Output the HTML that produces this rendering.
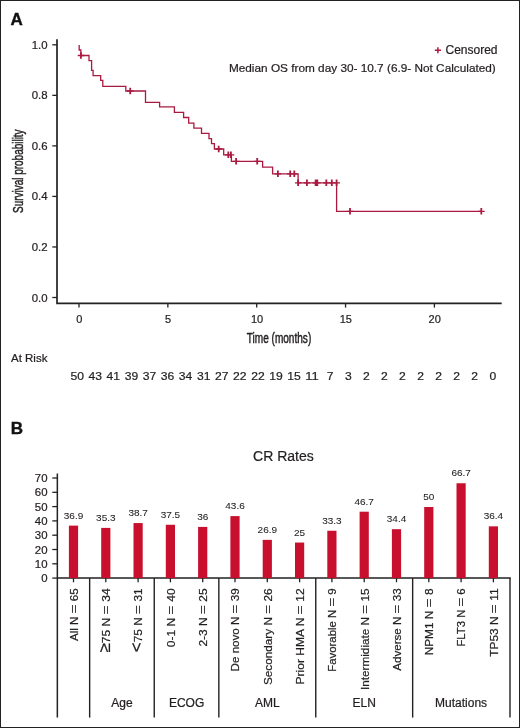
<!DOCTYPE html><html><head><meta charset="utf-8"><style>html,body{margin:0;padding:0;background:#fff;}svg{display:block;}svg{will-change:transform;}text{font-family:"Liberation Sans", sans-serif;fill:#231f20;stroke:#231f20;stroke-width:0.22px;}</style></head><body>
<svg width="520" height="728" viewBox="0 0 520 728">
<rect x="0" y="0" width="520" height="728" fill="#fff"/>
<rect x="0.5" y="0.5" width="519" height="727" fill="none" stroke="#222" stroke-width="1"/>
<text x="10.4" y="25" font-size="17" font-weight="bold" style="fill:#111;stroke:#111;stroke-width:0.4">A</text>
<path d="M57.0 39.2 V303.3 H501.7" fill="none" stroke="#222" stroke-width="1.7"/>
<line x1="52.3" y1="297.50" x2="57.0" y2="297.50" stroke="#222" stroke-width="1.3"/>
<text x="47.6" y="301.50" font-size="11.4" text-anchor="end">0.0</text>
<line x1="52.3" y1="246.96" x2="57.0" y2="246.96" stroke="#222" stroke-width="1.3"/>
<text x="47.6" y="250.96" font-size="11.4" text-anchor="end">0.2</text>
<line x1="52.3" y1="196.42" x2="57.0" y2="196.42" stroke="#222" stroke-width="1.3"/>
<text x="47.6" y="200.42" font-size="11.4" text-anchor="end">0.4</text>
<line x1="52.3" y1="145.88" x2="57.0" y2="145.88" stroke="#222" stroke-width="1.3"/>
<text x="47.6" y="149.88" font-size="11.4" text-anchor="end">0.6</text>
<line x1="52.3" y1="95.34" x2="57.0" y2="95.34" stroke="#222" stroke-width="1.3"/>
<text x="47.6" y="99.34" font-size="11.4" text-anchor="end">0.8</text>
<line x1="52.3" y1="44.80" x2="57.0" y2="44.80" stroke="#222" stroke-width="1.3"/>
<text x="47.6" y="48.80" font-size="11.4" text-anchor="end">1.0</text>
<line x1="79.00" y1="303.3" x2="79.00" y2="307.6" stroke="#222" stroke-width="1.3"/>
<text x="79.30" y="322.7" font-size="11" text-anchor="middle">0</text>
<line x1="167.85" y1="303.3" x2="167.85" y2="307.6" stroke="#222" stroke-width="1.3"/>
<text x="168.15" y="322.7" font-size="11" text-anchor="middle">5</text>
<line x1="256.70" y1="303.3" x2="256.70" y2="307.6" stroke="#222" stroke-width="1.3"/>
<text x="257.00" y="322.7" font-size="11" text-anchor="middle">10</text>
<line x1="345.55" y1="303.3" x2="345.55" y2="307.6" stroke="#222" stroke-width="1.3"/>
<text x="345.85" y="322.7" font-size="11" text-anchor="middle">15</text>
<line x1="434.40" y1="303.3" x2="434.40" y2="307.6" stroke="#222" stroke-width="1.3"/>
<text x="434.70" y="322.7" font-size="11" text-anchor="middle">20</text>
<text x="279" y="343.3" font-size="14" text-anchor="middle" textLength="64.5" lengthAdjust="spacingAndGlyphs" style="stroke:#231f20;stroke-width:0.45">Time (months)</text>
<text transform="translate(23.0 171.2) rotate(-90)" x="0" y="0" font-size="14" text-anchor="middle" textLength="83.6" lengthAdjust="spacingAndGlyphs" style="stroke:#231f20;stroke-width:0.45">Survival probability</text>
<path d="M434.8 50.3 H441 M437.9 47.2 V53.3" stroke="#b3183d" stroke-width="1.5" fill="none"/>
<text x="445.5" y="54.4" font-size="12">Censored</text>
<text x="495.8" y="72.1" font-size="11.8" text-anchor="end">Median OS from day 30- 10.7 (6.9- Not Calculated)</text>
<path d="M79.2 45 V50 H80.9 V55.5 H89 V60.6 H91.6 V70.3 H93.1 V75.7 H100.7 V80.4 H102.8 V86.4 H125.8 V91 H145.5 V102.3 H159.6 V106.8 H174.4 V112.3 H183.6 V117.5 H188.7 V123.1 H193.9 V128.2 H201.5 V133.3 H209 V138.6 H211.5 V143.7 H214.4 V149 H223.7 V154.8 H231.4 V161.3 H262.6 V167.2 H272.6 V173.8 H298.1 V182.8 H336.6 V211.3 H481.3" fill="none" stroke="#aa1a40" stroke-width="1.3"/>
<path d="M77.7 55.5 H84.3 M127.0 91 H133.6 M215.5 149 H222.1 M225.1 154.8 H231.7 M227.7 154.8 H234.3 M232.9 161.3 H239.5 M254.0 161.3 H260.6 M274.7 173.8 H281.3 M287.0 173.8 H293.6 M291.1 173.8 H297.7 M294.9 182.8 H301.5 M303.7 182.8 H310.3 M312.4 182.8 H319.0 M314.1 182.8 H320.7 M323.1 182.8 H329.7 M328.6 182.8 H335.2 M333.4 182.8 H340.0 M346.8 211.3 H353.4 M478.1 211.3 H484.7" fill="none" stroke="#aa1a40" stroke-width="1.3"/>
<path d="M80.9 52.2 V58.8 M130.2 87.7 V94.3 M218.7 145.7 V152.3 M228.3 151.5 V158.1 M230.9 151.5 V158.1 M236.1 158.0 V164.6 M257.2 158.0 V164.6 M277.9 170.5 V177.1 M290.2 170.5 V177.1 M294.3 170.5 V177.1 M298.1 179.5 V186.1 M306.9 179.5 V186.1 M315.6 179.5 V186.1 M317.3 179.5 V186.1 M326.3 179.5 V186.1 M331.8 179.5 V186.1 M336.6 179.5 V186.1 M350 208.0 V214.6 M481.3 208.0 V214.6" fill="none" stroke="#aa1a40" stroke-width="1.8"/>
<text x="11" y="361.8" font-size="11.5">At Risk</text>
<text x="77.20" y="380.1" font-size="11.6" text-anchor="middle" textLength="13.5" lengthAdjust="spacingAndGlyphs">50</text>
<text x="95.27" y="380.1" font-size="11.6" text-anchor="middle" textLength="13.5" lengthAdjust="spacingAndGlyphs">43</text>
<text x="113.34" y="380.1" font-size="11.6" text-anchor="middle" textLength="13.5" lengthAdjust="spacingAndGlyphs">41</text>
<text x="131.41" y="380.1" font-size="11.6" text-anchor="middle" textLength="13.5" lengthAdjust="spacingAndGlyphs">39</text>
<text x="149.48" y="380.1" font-size="11.6" text-anchor="middle" textLength="13.5" lengthAdjust="spacingAndGlyphs">37</text>
<text x="167.55" y="380.1" font-size="11.6" text-anchor="middle" textLength="13.5" lengthAdjust="spacingAndGlyphs">36</text>
<text x="185.62" y="380.1" font-size="11.6" text-anchor="middle" textLength="13.5" lengthAdjust="spacingAndGlyphs">34</text>
<text x="203.69" y="380.1" font-size="11.6" text-anchor="middle" textLength="13.5" lengthAdjust="spacingAndGlyphs">31</text>
<text x="221.76" y="380.1" font-size="11.6" text-anchor="middle" textLength="13.5" lengthAdjust="spacingAndGlyphs">27</text>
<text x="239.83" y="380.1" font-size="11.6" text-anchor="middle" textLength="13.5" lengthAdjust="spacingAndGlyphs">22</text>
<text x="257.90" y="380.1" font-size="11.6" text-anchor="middle" textLength="13.5" lengthAdjust="spacingAndGlyphs">22</text>
<text x="275.97" y="380.1" font-size="11.6" text-anchor="middle" textLength="13.5" lengthAdjust="spacingAndGlyphs">19</text>
<text x="294.04" y="380.1" font-size="11.6" text-anchor="middle" textLength="13.5" lengthAdjust="spacingAndGlyphs">15</text>
<text x="312.11" y="380.1" font-size="11.6" text-anchor="middle" textLength="13.5" lengthAdjust="spacingAndGlyphs">11</text>
<text x="330.18" y="380.1" font-size="11.6" text-anchor="middle" textLength="6.75" lengthAdjust="spacingAndGlyphs">7</text>
<text x="348.25" y="380.1" font-size="11.6" text-anchor="middle" textLength="6.75" lengthAdjust="spacingAndGlyphs">3</text>
<text x="366.32" y="380.1" font-size="11.6" text-anchor="middle" textLength="6.75" lengthAdjust="spacingAndGlyphs">2</text>
<text x="384.39" y="380.1" font-size="11.6" text-anchor="middle" textLength="6.75" lengthAdjust="spacingAndGlyphs">2</text>
<text x="402.46" y="380.1" font-size="11.6" text-anchor="middle" textLength="6.75" lengthAdjust="spacingAndGlyphs">2</text>
<text x="420.53" y="380.1" font-size="11.6" text-anchor="middle" textLength="6.75" lengthAdjust="spacingAndGlyphs">2</text>
<text x="438.60" y="380.1" font-size="11.6" text-anchor="middle" textLength="6.75" lengthAdjust="spacingAndGlyphs">2</text>
<text x="456.67" y="380.1" font-size="11.6" text-anchor="middle" textLength="6.75" lengthAdjust="spacingAndGlyphs">2</text>
<text x="474.74" y="380.1" font-size="11.6" text-anchor="middle" textLength="6.75" lengthAdjust="spacingAndGlyphs">2</text>
<text x="492.81" y="380.1" font-size="11.6" text-anchor="middle" textLength="6.75" lengthAdjust="spacingAndGlyphs">0</text>
<text x="10.8" y="433.5" font-size="17" font-weight="bold" style="fill:#111;stroke:#111;stroke-width:0.4">B</text>
<text x="283.4" y="460.5" font-size="14" text-anchor="middle">CR Rates</text>
<path d="M57.35 473.4 V717.6 M56.65 578.1 H510.7" fill="none" stroke="#222" stroke-width="1.5"/>
<line x1="52.3" y1="578.10" x2="57.35" y2="578.10" stroke="#222" stroke-width="1.3"/>
<text x="47.5" y="582.20" font-size="11.4" text-anchor="end">0</text>
<line x1="52.3" y1="563.80" x2="57.35" y2="563.80" stroke="#222" stroke-width="1.3"/>
<text x="47.5" y="567.90" font-size="11.4" text-anchor="end">10</text>
<line x1="52.3" y1="549.50" x2="57.35" y2="549.50" stroke="#222" stroke-width="1.3"/>
<text x="47.5" y="553.60" font-size="11.4" text-anchor="end">20</text>
<line x1="52.3" y1="535.20" x2="57.35" y2="535.20" stroke="#222" stroke-width="1.3"/>
<text x="47.5" y="539.30" font-size="11.4" text-anchor="end">30</text>
<line x1="52.3" y1="520.90" x2="57.35" y2="520.90" stroke="#222" stroke-width="1.3"/>
<text x="47.5" y="525.00" font-size="11.4" text-anchor="end">40</text>
<line x1="52.3" y1="506.60" x2="57.35" y2="506.60" stroke="#222" stroke-width="1.3"/>
<text x="47.5" y="510.70" font-size="11.4" text-anchor="end">50</text>
<line x1="52.3" y1="492.30" x2="57.35" y2="492.30" stroke="#222" stroke-width="1.3"/>
<text x="47.5" y="496.40" font-size="11.4" text-anchor="end">60</text>
<line x1="52.3" y1="478.00" x2="57.35" y2="478.00" stroke="#222" stroke-width="1.3"/>
<text x="47.5" y="482.10" font-size="11.4" text-anchor="end">70</text>
<rect x="68.90" y="525.63" width="9.2" height="52.47" fill="#c8102e"/>
<text transform="translate(73.50 518.63) scale(1 0.95)" x="0" y="0" font-size="10" style="stroke-width:0.08px" text-anchor="middle">36.9</text>
<line x1="73.50" y1="578.1" x2="73.50" y2="582.3" stroke="#222" stroke-width="1.3"/>
<text class="rl" transform="translate(77.80 588.4) rotate(-90)" x="0" y="0" font-size="11.5" text-anchor="end" textLength="52.58" lengthAdjust="spacingAndGlyphs">All N <tspan textLength="8.8" lengthAdjust="spacingAndGlyphs">=</tspan> 65</text>
<rect x="101.20" y="527.90" width="9.2" height="50.20" fill="#c8102e"/>
<text transform="translate(105.80 520.90) scale(1 0.95)" x="0" y="0" font-size="10" style="stroke-width:0.08px" text-anchor="middle">35.3</text>
<line x1="105.80" y1="578.1" x2="105.80" y2="582.3" stroke="#222" stroke-width="1.3"/>
<text class="rl" transform="translate(110.10 588.4) rotate(-90)" x="0" y="0" font-size="11.5" text-anchor="end" textLength="64.26" lengthAdjust="spacingAndGlyphs"><tspan font-size="16.5">≥</tspan>75 N <tspan textLength="8.8" lengthAdjust="spacingAndGlyphs">=</tspan> 34</text>
<rect x="133.50" y="523.07" width="9.2" height="55.03" fill="#c8102e"/>
<text transform="translate(138.10 516.07) scale(1 0.95)" x="0" y="0" font-size="10" style="stroke-width:0.08px" text-anchor="middle">38.7</text>
<line x1="138.10" y1="578.1" x2="138.10" y2="582.3" stroke="#222" stroke-width="1.3"/>
<text class="rl" transform="translate(142.40 588.4) rotate(-90)" x="0" y="0" font-size="11.5" text-anchor="end" textLength="63.84" lengthAdjust="spacingAndGlyphs"><tspan font-size="16.5">&lt;</tspan>75 N <tspan textLength="8.8" lengthAdjust="spacingAndGlyphs">=</tspan> 31</text>
<rect x="165.80" y="524.77" width="9.2" height="53.32" fill="#c8102e"/>
<text transform="translate(170.40 517.77) scale(1 0.95)" x="0" y="0" font-size="10" style="stroke-width:0.08px" text-anchor="middle">37.5</text>
<line x1="170.40" y1="578.1" x2="170.40" y2="582.3" stroke="#222" stroke-width="1.3"/>
<text class="rl" transform="translate(174.70 588.4) rotate(-90)" x="0" y="0" font-size="11.5" text-anchor="end" textLength="58.83" lengthAdjust="spacingAndGlyphs">0-1 N <tspan textLength="8.8" lengthAdjust="spacingAndGlyphs">=</tspan> 40</text>
<rect x="198.10" y="526.91" width="9.2" height="51.19" fill="#c8102e"/>
<text transform="translate(202.70 519.91) scale(1 0.95)" x="0" y="0" font-size="10" style="stroke-width:0.08px" text-anchor="middle">36</text>
<line x1="202.70" y1="578.1" x2="202.70" y2="582.3" stroke="#222" stroke-width="1.3"/>
<text class="rl" transform="translate(207.00 588.4) rotate(-90)" x="0" y="0" font-size="11.5" text-anchor="end" textLength="58.23" lengthAdjust="spacingAndGlyphs">2-3 N <tspan textLength="8.8" lengthAdjust="spacingAndGlyphs">=</tspan> 25</text>
<rect x="230.40" y="516.10" width="9.2" height="62.00" fill="#c8102e"/>
<text transform="translate(235.00 509.10) scale(1 0.95)" x="0" y="0" font-size="10" style="stroke-width:0.08px" text-anchor="middle">43.6</text>
<line x1="235.00" y1="578.1" x2="235.00" y2="582.3" stroke="#222" stroke-width="1.3"/>
<text class="rl" transform="translate(239.30 588.4) rotate(-90)" x="0" y="0" font-size="11.5" text-anchor="end" textLength="83.03" lengthAdjust="spacingAndGlyphs">De novo N <tspan textLength="8.8" lengthAdjust="spacingAndGlyphs">=</tspan> 39</text>
<rect x="262.70" y="539.85" width="9.2" height="38.25" fill="#c8102e"/>
<text transform="translate(267.30 532.85) scale(1 0.95)" x="0" y="0" font-size="10" style="stroke-width:0.08px" text-anchor="middle">26.9</text>
<line x1="267.30" y1="578.1" x2="267.30" y2="582.3" stroke="#222" stroke-width="1.3"/>
<text class="rl" transform="translate(271.60 588.4) rotate(-90)" x="0" y="0" font-size="11.5" text-anchor="end" textLength="96.69" lengthAdjust="spacingAndGlyphs">Secondary N <tspan textLength="8.8" lengthAdjust="spacingAndGlyphs">=</tspan> 26</text>
<rect x="295.00" y="542.55" width="9.2" height="35.55" fill="#c8102e"/>
<text transform="translate(299.60 535.55) scale(1 0.95)" x="0" y="0" font-size="10" style="stroke-width:0.08px" text-anchor="middle">25</text>
<line x1="299.60" y1="578.1" x2="299.60" y2="582.3" stroke="#222" stroke-width="1.3"/>
<text class="rl" transform="translate(303.90 588.4) rotate(-90)" x="0" y="0" font-size="11.5" text-anchor="end" textLength="96.09" lengthAdjust="spacingAndGlyphs">Prior HMA N <tspan textLength="8.8" lengthAdjust="spacingAndGlyphs">=</tspan> 12</text>
<rect x="327.30" y="530.75" width="9.2" height="47.35" fill="#c8102e"/>
<text transform="translate(331.90 523.75) scale(1 0.95)" x="0" y="0" font-size="10" style="stroke-width:0.08px" text-anchor="middle">33.3</text>
<line x1="331.90" y1="578.1" x2="331.90" y2="582.3" stroke="#222" stroke-width="1.3"/>
<text class="rl" transform="translate(336.20 588.4) rotate(-90)" x="0" y="0" font-size="11.5" text-anchor="end" textLength="83.34" lengthAdjust="spacingAndGlyphs">Favorable N <tspan textLength="8.8" lengthAdjust="spacingAndGlyphs">=</tspan> 9</text>
<rect x="359.60" y="511.69" width="9.2" height="66.41" fill="#c8102e"/>
<text transform="translate(364.20 504.69) scale(1 0.95)" x="0" y="0" font-size="10" style="stroke-width:0.08px" text-anchor="middle">46.7</text>
<line x1="364.20" y1="578.1" x2="364.20" y2="582.3" stroke="#222" stroke-width="1.3"/>
<text class="rl" transform="translate(368.50 588.4) rotate(-90)" x="0" y="0" font-size="11.5" text-anchor="end" textLength="101.58" lengthAdjust="spacingAndGlyphs">Intermidiate N <tspan textLength="8.8" lengthAdjust="spacingAndGlyphs">=</tspan> 15</text>
<rect x="391.90" y="529.18" width="9.2" height="48.92" fill="#c8102e"/>
<text transform="translate(396.50 522.18) scale(1 0.95)" x="0" y="0" font-size="10" style="stroke-width:0.08px" text-anchor="middle">34.4</text>
<line x1="396.50" y1="578.1" x2="396.50" y2="582.3" stroke="#222" stroke-width="1.3"/>
<text class="rl" transform="translate(400.80 588.4) rotate(-90)" x="0" y="0" font-size="11.5" text-anchor="end" textLength="82.39" lengthAdjust="spacingAndGlyphs">Adverse N <tspan textLength="8.8" lengthAdjust="spacingAndGlyphs">=</tspan> 33</text>
<rect x="424.20" y="507.00" width="9.2" height="71.10" fill="#c8102e"/>
<text transform="translate(428.80 500.00) scale(1 0.95)" x="0" y="0" font-size="10" style="stroke-width:0.08px" text-anchor="middle">50</text>
<line x1="428.80" y1="578.1" x2="428.80" y2="582.3" stroke="#222" stroke-width="1.3"/>
<text class="rl" transform="translate(433.10 588.4) rotate(-90)" x="0" y="0" font-size="11.5" text-anchor="end" textLength="66.95" lengthAdjust="spacingAndGlyphs">NPM1 N <tspan textLength="8.8" lengthAdjust="spacingAndGlyphs">=</tspan> 8</text>
<rect x="456.50" y="483.25" width="9.2" height="94.85" fill="#c8102e"/>
<text transform="translate(461.10 476.25) scale(1 0.95)" x="0" y="0" font-size="10" style="stroke-width:0.08px" text-anchor="middle">66.7</text>
<line x1="461.10" y1="578.1" x2="461.10" y2="582.3" stroke="#222" stroke-width="1.3"/>
<text class="rl" transform="translate(465.40 588.4) rotate(-90)" x="0" y="0" font-size="11.5" text-anchor="end" textLength="58.18" lengthAdjust="spacingAndGlyphs">FLT3 N <tspan textLength="8.8" lengthAdjust="spacingAndGlyphs">=</tspan> 6</text>
<rect x="488.80" y="526.34" width="9.2" height="51.76" fill="#c8102e"/>
<text transform="translate(493.40 519.34) scale(1 0.95)" x="0" y="0" font-size="10" style="stroke-width:0.08px" text-anchor="middle">36.4</text>
<line x1="493.40" y1="578.1" x2="493.40" y2="582.3" stroke="#222" stroke-width="1.3"/>
<text class="rl" transform="translate(497.70 588.4) rotate(-90)" x="0" y="0" font-size="11.5" text-anchor="end" textLength="68.43" lengthAdjust="spacingAndGlyphs">TP53 N <tspan textLength="8.8" lengthAdjust="spacingAndGlyphs">=</tspan> 11</text>
<line x1="89.65" y1="578.1" x2="89.65" y2="717.6" stroke="#222" stroke-width="1.4"/>
<line x1="154.25" y1="578.1" x2="154.25" y2="717.6" stroke="#222" stroke-width="1.4"/>
<line x1="218.85" y1="578.1" x2="218.85" y2="717.6" stroke="#222" stroke-width="1.4"/>
<line x1="315.75" y1="578.1" x2="315.75" y2="717.6" stroke="#222" stroke-width="1.4"/>
<line x1="412.65" y1="578.1" x2="412.65" y2="717.6" stroke="#222" stroke-width="1.4"/>
<line x1="510.00" y1="578.1" x2="510.00" y2="717.6" stroke="#222" stroke-width="1.4"/>
<text x="121.95" y="707.3" font-size="12" text-anchor="middle">Age</text>
<text x="186.55" y="707.3" font-size="12" text-anchor="middle">ECOG</text>
<text x="267.30" y="707.3" font-size="12" text-anchor="middle">AML</text>
<text x="364.20" y="707.3" font-size="12" text-anchor="middle">ELN</text>
<text x="461.10" y="707.3" font-size="12" text-anchor="middle">Mutations</text>
</svg></body></html>
